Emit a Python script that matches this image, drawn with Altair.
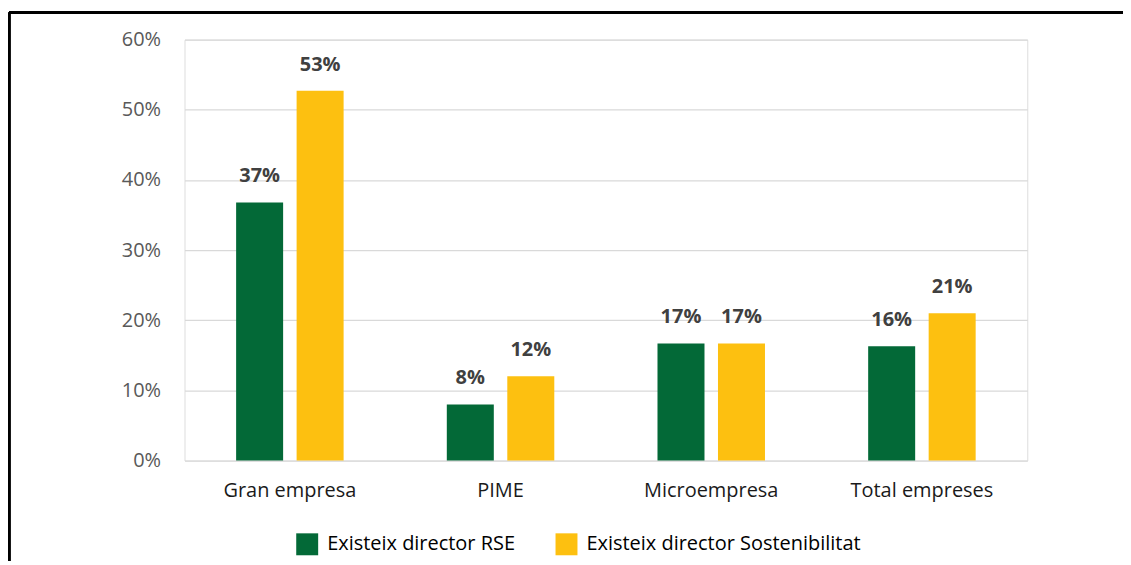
import altair as alt
import pandas as pd

categories = ["Gran empresa", "PIME", "Microempresa", "Total empreses"]
series = ["Existeix director RSE", "Existeix director Sostenibilitat"]
rse = [0.368, 0.080, 0.167, 0.163]
sost = [0.527, 0.120, 0.167, 0.210]
colors = ["#036937", "#FDC010"]

rows = []
for c, a, b in zip(categories, rse, sost):
    rows.append({"cat": c, "serie": series[0], "val": a})
    rows.append({"cat": c, "serie": series[1], "val": b})
df = pd.DataFrame(rows)

FONT = "Open Sans"

x = alt.X("cat:N", sort=categories, title=None,
          scale=alt.Scale(paddingInner=0, paddingOuter=0),
          axis=alt.Axis(labelAngle=0, labelFontSize=20, labelColor="#1a1a1a",
                        labelPadding=20, ticks=False, domain=False, labelFont=FONT))
xo = alt.XOffset("serie:N", sort=series,
                 scale=alt.Scale(paddingInner=0.223, paddingOuter=0.853))
y = alt.Y("val:Q", title=None,
          scale=alt.Scale(domain=[0, 0.6], nice=False),
          axis=alt.Axis(format=".0%", values=[0, 0.1, 0.2, 0.3, 0.4, 0.5, 0.6],
                        labelFontSize=20, labelColor="#595959", labelPadding=24,
                        ticks=False, domain=False, gridColor="#d9d9d9",
                        gridWidth=1.3, labelFont=FONT))

bars = alt.Chart(df).mark_bar().encode(
    x=x, xOffset=xo, y=y,
    color=alt.Color("serie:N", sort=series,
                    scale=alt.Scale(domain=series, range=colors),
                    legend=alt.Legend(title=None, orient="none", direction="horizontal",
                                      legendX=112, legendY=495, symbolType="square",
                                      symbolSize=484, symbolStrokeWidth=0,
                                      labelFontSize=20, labelColor="#000000",
                                      labelFont=FONT, labelOffset=9, labelLimit=500,
                                      columnPadding=40, symbolOpacity=1)),
)

labels = alt.Chart(df).mark_text(baseline="bottom", dy=-16, fontSize=20,
                                 fontWeight="bold", color="#404040", font=FONT).encode(
    x=x, xOffset=xo, y=y,
    text=alt.Text("val:Q", format=".0%"),
)

border_top = alt.Chart(df).mark_rule(color="#000000", strokeWidth=2.5).encode(
    x=alt.value(-176), x2=alt.value(960), y=alt.value(-27))
border_left = alt.Chart(df).mark_rule(color="#000000", strokeWidth=2.5).encode(
    x=alt.value(-176), y=alt.value(-27), y2=alt.value(600))

chart = alt.layer(bars, labels, border_top, border_left).properties(
    width=845, height=422,
    padding={"left": 177, "top": 31, "right": 96, "bottom": 100},
    autosize=alt.AutoSizeParams(type="none"),
).configure_view(stroke=None).configure(font=FONT)

chart.save("out.html", embed_options={"renderer": "svg", "actions": False})
